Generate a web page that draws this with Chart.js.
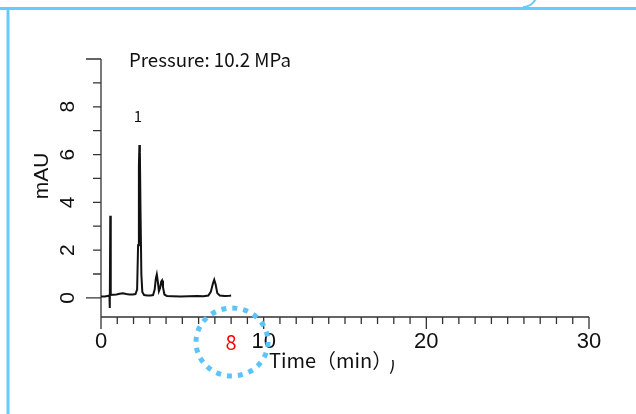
<!DOCTYPE html>
<html>
<head>
<meta charset="utf-8">
<script src="https://cdn.jsdelivr.net/npm/chart.js@4.4.1/dist/chart.umd.min.js"></script>
<style>
  html, body { margin: 0; padding: 0; background: #fff; }
  #wrap { width: 636px; height: 414px; }
</style>
</head>
<body>
<div id="wrap"><canvas id="chromChart" width="636" height="414"></canvas></div>
<script>
// chromatogram trace
const timeMin = [0.00, 0.25, 0.45, 0.52, 0.54, 0.57, 0.60, 0.75, 0.95, 1.15, 1.35, 1.55, 1.75, 1.95,
  2.12, 2.22, 2.28, 2.33, 2.36, 2.39, 2.43, 2.48, 2.54, 2.65, 2.85, 3.05, 3.20, 3.30, 3.37, 3.43,
  3.49, 3.56, 3.63, 3.70, 3.75, 3.81, 3.90, 4.05, 4.40, 4.90, 5.40, 5.90, 6.30, 6.60, 6.75, 6.88,
  6.96, 7.04, 7.15, 7.30, 7.60, 7.90, 8.00];
const absorbance = [0.06, 0.06, 0.09, 0.08, -0.42, 3.44, 0.12, 0.13, 0.14, 0.17, 0.19, 0.16, 0.14, 0.14,
  0.16, 0.35, 2.20, 5.50, 6.40, 6.10, 3.60, 1.00, 0.25, 0.12, 0.10, 0.10, 0.12, 0.35, 0.80, 0.98,
  0.70, 0.28, 0.40, 0.68, 0.73, 0.45, 0.14, 0.08, 0.07, 0.06, 0.07, 0.08, 0.07, 0.10, 0.25, 0.60,
  0.76, 0.58, 0.20, 0.10, 0.08, 0.09, 0.10];

const xTickLabels = [0, 10, 20, 30];
const yTickLabels = [0, 2, 4, 6, 8];
const peakLabels = [{ t: 2.27, v: 7.6, text: '1' }];

const points = timeMin.map((t, i) => ({ x: t, y: absorbance[i] }));

const frameBlue = '#66ccff';
const cjkFont = '"Noto Sans CJK SC", "Noto Sans", sans-serif';

const decor = {
  id: 'decor',
  beforeDraw(chart) {
    const ctx = chart.ctx;
    ctx.save();
    ctx.strokeStyle = frameBlue;
    ctx.lineWidth = 3;
    ctx.beginPath();
    ctx.moveTo(0, 8.5);
    ctx.lineTo(636, 8.5);
    ctx.moveTo(8, 8.5);
    ctx.lineTo(8, 414);
    ctx.stroke();
    ctx.lineWidth = 2;
    ctx.beginPath();
    ctx.arc(523, -7, 14, Math.PI / 2, 0, true);
    ctx.stroke();
    ctx.restore();
  },
  beforeDatasetsDraw(chart) {
    const ctx = chart.ctx;
    const xs = chart.scales.x, ys = chart.scales.y;
    const area = chart.chartArea;
    const x0 = xs.getPixelForValue(0);
    ctx.save();
    ctx.strokeStyle = '#333';
    ctx.lineWidth = 1.3;
    ctx.beginPath();
    ctx.moveTo(x0, ys.getPixelForValue(10));
    ctx.lineTo(x0, area.bottom);
    ctx.moveTo(x0, area.bottom);
    ctx.lineTo(xs.getPixelForValue(30), area.bottom);
    for (let v = 0; v <= 10; v++) {
      const py = ys.getPixelForValue(v);
      ctx.moveTo(x0, py);
      ctx.lineTo(x0 - (v === 10 || v === 0 ? 15 : 8), py);
    }
    for (let t = 0; t <= 30; t++) {
      const px = xs.getPixelForValue(t);
      ctx.moveTo(px, area.bottom);
      ctx.lineTo(px, area.bottom + (t % 10 === 0 ? 12 : 7));
    }
    ctx.stroke();

    ctx.fillStyle = '#111';
    ctx.font = '22px "Liberation Sans", Arial, sans-serif';
    ctx.textAlign = 'center';
    ctx.textBaseline = 'middle';
    xTickLabels.forEach(t => ctx.fillText(String(t), xs.getPixelForValue(t), 342));
    ctx.font = '21px "Liberation Sans", Arial, sans-serif';
    yTickLabels.forEach(v => {
      ctx.save();
      ctx.translate(68, ys.getPixelForValue(v));
      ctx.rotate(-Math.PI / 2);
      ctx.fillText(String(v), 0, 0);
      ctx.restore();
    });
    ctx.save();
    ctx.translate(42, 176);
    ctx.rotate(-Math.PI / 2);
    ctx.font = '21px "Liberation Sans", Arial, sans-serif';
    ctx.fillText('mAU', 0, 0);
    ctx.restore();

    ctx.font = '18.7px ' + cjkFont;
    ctx.textAlign = 'left';
    ctx.fillText('Pressure: 10.2 MPa', 129, 60);
    ctx.textAlign = 'center';
    ctx.font = '15px ' + cjkFont;
    peakLabels.forEach(p => ctx.fillText(p.text, xs.getPixelForValue(p.t), ys.getPixelForValue(p.v)));
    ctx.restore();
  },
  afterDraw(chart) {
    const ctx = chart.ctx;
    ctx.save();
    ctx.fillStyle = '#111';
    ctx.textBaseline = 'middle';
    ctx.textAlign = 'left';
    ctx.font = '20px ' + cjkFont;
    ctx.fillText('Time（min）', 269, 360);
    ctx.save();
    ctx.beginPath();
    ctx.rect(385, 360, 30, 20);
    ctx.clip();
    ctx.fillText(')', 389, 362);
    ctx.restore();

    ctx.fillStyle = '#ff0000';
    ctx.textAlign = 'center';
    ctx.font = '20px ' + cjkFont;
    ctx.fillText('8', 231, 342);

    ctx.strokeStyle = '#5bc4f8';
    ctx.lineWidth = 5;
    ctx.setLineDash([5, 6]);
    ctx.beginPath();
    ctx.ellipse(232, 342, 36, 34, 0, 0, Math.PI * 2);
    ctx.stroke();
    ctx.restore();
  }
};

new Chart(document.getElementById('chromChart').getContext('2d'), {
  type: 'scatter',
  data: {
    datasets: [{
      data: points,
      showLine: true,
      borderColor: '#111',
      borderWidth: 2,
      pointRadius: 0,
      tension: 0
    }]
  },
  options: {
    responsive: false,
    animation: false,
    devicePixelRatio: 1,
    layout: { padding: { left: 101, right: 47, top: 59, bottom: 97 } },
    plugins: { legend: { display: false }, tooltip: { enabled: false } },
    scales: {
      x: { type: 'linear', min: 0, max: 30, display: false },
      y: { type: 'linear', min: -0.8, max: 10, display: false }
    }
  },
  plugins: [decor]
});
</script>
</body>
</html>
